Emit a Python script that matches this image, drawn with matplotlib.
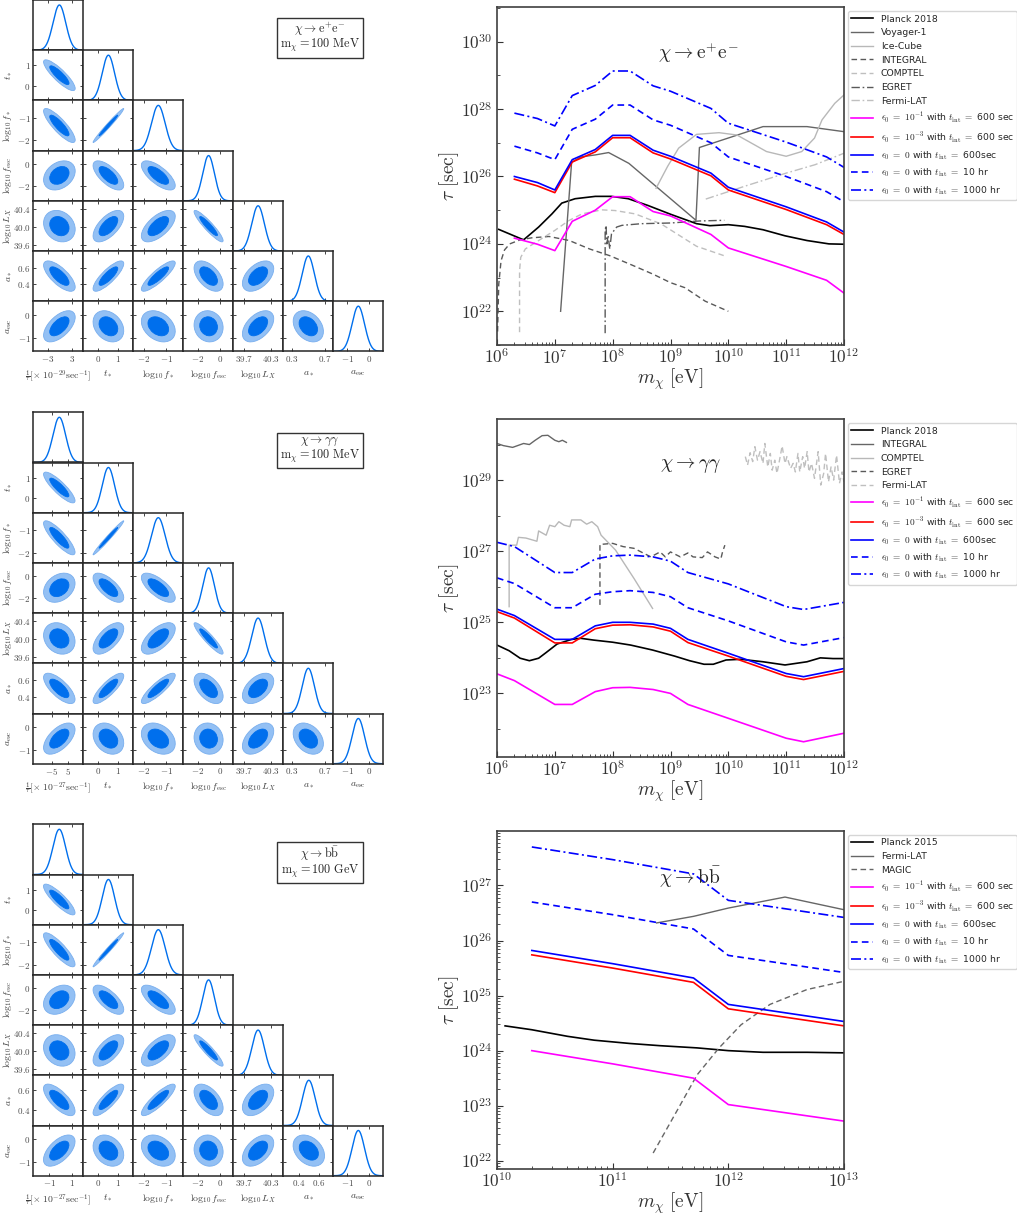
import numpy as np
import matplotlib
matplotlib.use('Agg')
import matplotlib.pyplot as plt
from matplotlib.patches import Ellipse
from matplotlib.ticker import FixedLocator, NullFormatter, FuncFormatter

plt.rcParams['mathtext.fontset'] = 'cm'
plt.rcParams['font.family'] = ['DejaVu Sans']

# ------------------------------------------------------------------ data
# corner-plot parameters (posterior means / widths / plotted ranges)
par_labels = [None, r'$t_*$', r'$\log_{10}f_*$', r'$\log_{10}f_{\rm esc}$',
              r'$\log_{10}L_X$', r'$a_*$', r'$a_{\rm esc}$']
par_means = [0.0, 0.52, -1.35, -1.05, 40.02, 0.50, -0.50]
par_sigmas = [1.0, 0.30, 0.30, 0.52, 0.14, 0.073, 0.28]
par_lims = [(-1, 1), (-0.70, 1.73), (-2.45, -0.25), (-3.30, 1.15),
            (39.47, 40.58), (0.20, 0.80), (-1.62, 0.62)]
par_xticks = [None, ['0', '1'], ['-2', '-1'], ['-2', '0'], ['39.7', '40.3'],
              ['0.3', '0.7'], ['-1', '0']]
par_yticks = [None, ['0', '1'], ['-2', '-1'], ['-2', '0'],
              ['39.6', '40.0', '40.4'], ['0.4', '0.6'], ['-1', '0']]
# lower-triangle correlation coefficients
par_corr = [
    [1.0],
    [-0.86, 1.0],
    [-0.85, 0.985, 1.0],
    [0.30, -0.68, -0.70, 1.0],
    [-0.20, 0.62, 0.62, -0.92, 1.0],
    [-0.72, 0.82, 0.86, -0.52, 0.48, 1.0],
    [0.58, -0.28, -0.32, -0.08, 0.48, -0.33, 1.0],
]

# per-panel decay-rate parameter and a_* settings
tau_labels = [r'$\frac{1}{\tau}[\times\ 10^{-29}\mathrm{sec}^{-1}]$',
              r'$\frac{1}{\tau}[\times\ 10^{-27}\mathrm{sec}^{-1}]$',
              r'$\frac{1}{\tau}[\times\ 10^{-27}\mathrm{sec}^{-1}]$']
tau_means = [-0.08, -0.4, -0.09]
tau_sigmas = [1.59, 3.8, 0.56]
tau_lims = [(-6.6, 5.9), (-16.0, 14.0), (-2.38, 2.03)]
tau_ticks = [['-3', '3'], ['-5', '5'], ['-1', '1']]
astar_sigmas = [0.073, 0.073, 0.062]
astar_lims = [(0.20, 0.80), (0.20, 0.80), (0.25, 0.74)]
astar_xticks = [['0.3', '0.7'], ['0.3', '0.7'], ['0.4', '0.6']]
channel_box = [r'$\chi\rightarrow\mathrm{e^{+}e^{-}}$' + '\n' + r'$\mathrm{m_{\chi}=100\ MeV}$',
               r'$\chi\rightarrow\gamma\gamma$' + '\n' + r'$\mathrm{m_{\chi}=100\ MeV}$',
               r'$\chi\rightarrow\mathrm{b\bar{b}}$' + '\n' + r'$\mathrm{m_{\chi}=100\ GeV}$']

# ---- chi -> e+e-  (masses in eV, lifetimes as log10(tau/sec))
m_ee = [2e6, 5e6, 1e7, 2e7, 5e7, 1e8, 2e8, 5e8, 1e9, 5e9, 1e10, 1e11, 5e11, 1e12]
ee_eps1 = [24.17, 23.99, 23.80, 24.67, 25.00, 25.40, 25.40, 24.96, 24.83, 24.28, 23.88, 23.33, 22.92, 22.54]
ee_eps3 = [25.92, 25.72, 25.52, 26.43, 26.73, 27.15, 27.15, 26.70, 26.52, 26.02, 25.60, 25.02, 24.57, 24.28]
ee_600s = [26.00, 25.82, 25.60, 26.50, 26.80, 27.22, 27.22, 26.78, 26.60, 26.10, 25.68, 25.10, 24.65, 24.35]
ee_10hr = [26.90, 26.70, 26.50, 27.40, 27.70, 28.12, 28.12, 27.68, 27.52, 27.00, 26.58, 26.00, 25.55, 25.25]
ee_1000hr = [27.88, 27.72, 27.50, 28.40, 28.70, 29.13, 29.13, 28.69, 28.53, 28.02, 27.58, 27.02, 26.58, 26.27]

ee_planck_m = [6.03, 6.46, 6.72, 6.95, 7.12, 7.35, 7.7, 7.98, 8.27, 8.61, 9.0, 9.45, 9.68, 10.0,
               10.28, 10.6, 10.98, 11.36, 11.74, 12.0]
ee_planck_t = [24.43, 24.12, 24.5, 24.89, 25.21, 25.34, 25.41, 25.41, 25.34, 25.14, 24.88, 24.6,
               24.54, 24.57, 24.52, 24.42, 24.24, 24.1, 24.0, 23.99]
ee_voyager_m = [7.1, 7.29, 7.45, 7.7, 7.93, 8.28, 9.44, 9.5, 10.6, 11.36, 12.0]
ee_voyager_t = [22.0, 26.42, 26.58, 26.64, 26.71, 26.39, 24.7, 26.86, 27.48, 27.48, 27.33]
ee_icecube_m = [8.75, 8.95, 9.14, 9.45, 9.84, 10.15, 10.66, 11.0, 11.27, 11.49, 11.62, 11.84, 12.0]
ee_icecube_t = [25.65, 26.3, 26.84, 27.25, 27.3, 27.23, 26.74, 26.6, 26.74, 27.14, 27.68, 28.17, 28.42]
ee_integral_m = [6.01, 6.03, 6.07, 6.13, 6.22, 6.4, 6.6, 6.9, 7.25, 7.6, 7.95, 8.35, 8.7, 9.0,
                 9.25, 9.6, 10.0]
ee_integral_t = [21.4, 22.8, 23.5, 23.82, 24.0, 24.12, 24.18, 24.22, 24.1, 23.85, 23.65, 23.36,
                 23.1, 22.85, 22.7, 22.3, 22.0]
ee_comptel_m = [6.39, 6.39, 6.41, 6.49, 6.72, 7.0, 7.24, 7.47, 7.81, 8.04, 8.39, 8.84, 9.45, 9.96]
ee_comptel_t = [21.38, 23.2, 23.6, 23.85, 24.1, 24.4, 24.69, 24.89, 25.01, 24.99, 24.89, 24.59,
                23.93, 23.63]
ee_egret_m = [7.87, 7.87, 7.885, 7.9, 7.92, 7.95, 7.98, 8.07, 8.16, 8.5, 9.0, 9.5, 9.93]
ee_egret_t = [21.35, 24.4, 24.55, 24.0, 24.25, 23.85, 24.3, 24.5, 24.55, 24.6, 24.62, 24.68, 24.7]
ee_fermi_m = [9.61, 10.3, 11.0, 11.5, 12.0]
ee_fermi_t = [25.33, 25.72, 26.1, 26.35, 26.69]

# ---- chi -> gamma gamma
m_gg = [1e6, 2e6, 1e7, 2e7, 5e7, 1e8, 2e8, 5e8, 1e9, 2e9, 1e10, 1e11, 2e11, 1e12]
gg_eps1 = [23.55, 23.36, 22.69, 22.69, 23.05, 23.16, 23.17, 23.11, 23.0, 22.69, 22.3, 21.74, 21.64, 21.88]
gg_eps3 = [25.3, 25.12, 24.42, 24.42, 24.82, 24.92, 24.93, 24.87, 24.75, 24.43, 24.05, 23.48, 23.39, 23.62]
gg_600s = [25.37, 25.19, 24.52, 24.52, 24.9, 25.0, 25.0, 24.95, 24.83, 24.52, 24.13, 23.56, 23.47, 23.7]
gg_10hr = [26.25, 26.09, 25.41, 25.41, 25.79, 25.86, 25.89, 25.84, 25.72, 25.41, 25.04, 24.45, 24.36, 24.57]
gg_1000hr = [27.25, 27.13, 26.4, 26.4, 26.78, 26.87, 26.89, 26.84, 26.72, 26.4, 26.08, 25.44, 25.36, 25.56]

gg_planck_m = [6.0, 6.21, 6.4, 6.56, 6.72, 6.85, 7.04, 7.29, 7.45, 7.67, 8.0, 8.31, 8.69, 9.07,
               9.33, 9.58, 9.74, 9.96, 10.22, 10.6, 10.98, 11.36, 11.59, 11.81, 12.0]
gg_planck_t = [24.36, 24.2, 23.99, 23.92, 23.99, 24.15, 24.39, 24.52, 24.55, 24.5, 24.44, 24.36,
               24.22, 24.05, 23.92, 23.82, 23.82, 23.94, 23.96, 23.89, 23.8, 23.89, 24.0, 23.98, 23.98]
gg_integral_m = [6.0, 6.11, 6.27, 6.46, 6.56, 6.66, 6.78, 6.88, 7.0, 7.07, 7.13, 7.2]
gg_integral_t = [30.03, 29.97, 29.92, 30.03, 30.0, 30.12, 30.25, 30.26, 30.12, 30.08, 30.12, 30.06]
gg_comptel_m = [6.21, 6.21, 6.34, 6.37, 6.5, 6.69, 6.72, 6.85, 6.91, 7.0, 7.07, 7.16, 7.26, 7.29,
                7.45, 7.55, 7.64, 7.74, 7.8, 8.05, 8.37, 8.69]
gg_comptel_t = [25.44, 27.17, 27.17, 27.39, 27.37, 27.28, 27.57, 27.45, 27.73, 27.69, 27.83, 27.73,
                27.69, 27.88, 27.88, 27.76, 27.83, 27.69, 27.45, 27.03, 26.23, 25.39]
gg_egret_m = [7.78, 7.78, 8.0, 8.18, 8.37, 8.66, 8.82, 8.91, 9.0, 9.17, 9.3, 9.39, 9.55, 9.64,
              9.77, 9.87, 9.9, 9.94]
gg_egret_t = [25.49, 27.19, 27.22, 27.13, 27.08, 26.84, 26.98, 26.84, 26.98, 26.84, 26.95, 26.84,
              26.82, 26.98, 26.84, 26.78, 26.98, 27.17]
gg_fermi_m = [10.294, 10.332, 10.377, 10.421, 10.459, 10.504, 10.548, 10.599, 10.631, 10.682,
              10.726, 10.758, 10.803, 10.841, 10.885, 10.930, 10.980, 11.013, 11.076, 11.121,
              11.159, 11.204, 11.235, 11.286, 11.318, 11.363, 11.394, 11.439, 11.490, 11.553,
              11.598, 11.649, 11.681, 11.732, 11.776, 11.821, 11.871, 11.922, 11.967, 11.999]
gg_fermi_t = [29.66, 29.42, 29.77, 29.52, 29.94, 29.56, 29.80, 29.47, 30.03, 29.37,
              29.75, 29.28, 29.56, 29.19, 29.56, 29.96, 29.47, 29.66, 29.33, 29.47,
              29.23, 29.75, 29.23, 29.66, 29.33, 29.80, 29.23, 29.47, 29.05, 29.80,
              28.86, 29.19, 29.75, 28.95, 29.37, 29.00, 29.70, 28.91, 29.23, 28.95]

# ---- chi -> b bbar
m_bb = [2e10, 1e11, 5e11, 1e12, 1e13]
bb_eps1 = [24.0, 23.76, 23.5, 23.02, 22.72]
bb_eps3 = [25.74, 25.5, 25.24, 24.76, 24.45]
bb_600s = [25.82, 25.58, 25.32, 24.84, 24.53]
bb_10hr = [26.7, 26.47, 26.21, 25.73, 25.42]
bb_1000hr = [27.7, 27.47, 27.21, 26.73, 26.42]
bb_planck_m = [10.07, 10.3, 10.61, 10.84, 11.15, 11.41, 11.73, 12.0, 12.3, 12.68, 13.0]
bb_planck_t = [24.45, 24.38, 24.26, 24.19, 24.13, 24.09, 24.05, 24.0, 23.97, 23.97, 23.96]
bb_fermi_m = [11.38, 11.7, 12.0, 12.49, 13.0]
bb_fermi_t = [26.32, 26.44, 26.59, 26.79, 26.56]
bb_magic_m = [11.35, 11.57, 11.73, 11.92, 12.11, 12.36, 12.68, 13.0]
bb_magic_t = [22.14, 22.96, 23.56, 24.05, 24.47, 24.84, 25.11, 25.26]

eps_labels = [r'$\epsilon_0\ =\ 10^{-1}$ with $t_{\rm int}\ =$ 600 sec',
              r'$\epsilon_0\ =\ 10^{-3}$ with $t_{\rm int}\ =$ 600 sec',
              r'$\epsilon_0\ =\ 0$ with $t_{\rm int}\ =$ 600sec',
              r'$\epsilon_0\ =\ 0$ with $t_{\rm int}\ =$ 10 hr',
              r'$\epsilon_0\ =\ 0$ with $t_{\rm int}\ =$ 1000 hr']

# ------------------------------------------------------------------ layout
W, H = 1017, 1217
fig = plt.figure(figsize=(W / 100, H / 100), dpi=100)

X0, CW, CH = 33.3, 50.0, 50.2
C_LINE = '#006FED'
C_OUT = '#93C0F4'
C_OUT_EDGE = '#78AEEE'


def tick_strings(ax, axis, labels):
    vals = [float(s) for s in labels]
    txt = [r'$%s$' % s for s in labels]
    if axis == 'x':
        ax.set_xticks(vals)
        ax.set_xticklabels(txt)
    else:
        ax.set_yticks(vals)
        ax.set_yticklabels(txt)


def corner(k, top_px):
    means = [tau_means[k]] + par_means[1:]
    sigmas = [tau_sigmas[k]] + par_sigmas[1:5] + [astar_sigmas[k]] + par_sigmas[6:]
    lims = [tau_lims[k]] + par_lims[1:5] + [astar_lims[k]] + par_lims[6:]
    xt = [tau_ticks[k]] + par_xticks[1:5] + [astar_xticks[k]] + par_xticks[6:]
    yt = par_yticks
    labels = [tau_labels[k]] + par_labels[1:]
    n = 7
    for i in range(n):
        for j in range(i + 1):
            ax = fig.add_axes([(X0 + j * CW) / W, 1 - (top_px + (i + 1) * CH) / H,
                               CW / W, CH / H])
            if i == j:
                xs = np.linspace(lims[j][0], lims[j][1], 400)
                ax.plot(xs, np.exp(-0.5 * ((xs - means[j]) / sigmas[j]) ** 2),
                        color=C_LINE, lw=1.0)
                ax.set_ylim(0, 1.11)
                ax.set_yticks([])
            else:
                r = par_corr[i][j]
                cov = np.array([[sigmas[j] ** 2, r * sigmas[i] * sigmas[j]],
                                [r * sigmas[i] * sigmas[j], sigmas[i] ** 2]])
                vals, vecs = np.linalg.eigh(cov)
                ang = np.degrees(np.arctan2(vecs[1, 1], vecs[0, 1]))
                for chi2, fc, ec in [(6.18, C_OUT, C_OUT_EDGE), (2.30, C_LINE, C_LINE)]:
                    ax.add_patch(Ellipse((means[j], means[i]),
                                         2 * np.sqrt(chi2 * vals[1]),
                                         2 * np.sqrt(chi2 * vals[0]),
                                         angle=ang, fc=fc, ec=ec, lw=0.6))
                ax.set_ylim(lims[i])
                tick_strings(ax, 'y', yt[i])
            ax.set_xlim(lims[j])
            tick_strings(ax, 'x', xt[j])
            ax.tick_params(direction='in', top=True, right=True, length=2.5, width=0.6,
                           labelsize=6.5, pad=2, colors='0.15', labelcolor='0.3')
            for s in ax.spines.values():
                s.set_color('0.15')
                s.set_linewidth(1.1)
            if j != 0 or i == 0:
                ax.set_yticklabels([])
            else:
                ax.set_ylabel(labels[i], fontsize=7, color='0.25')
                ax.yaxis.set_label_coords(-0.38, 0.5)
            if i != n - 1:
                ax.set_xticklabels([])
            else:
                ax.set_xlabel(labels[j], fontsize=7, color='0.25')
                ax.xaxis.set_label_coords(0.5, -0.33)
    fig.text(320 / W, 1 - (top_px + 37.5) / H, channel_box[k], ha='center', va='center',
             fontsize=8.8, color='0.15', linespacing=0.95,
             bbox=dict(boxstyle='square,pad=0.28', fc='white', ec='0.2', lw=1.0))


corner(0, 0.0)
corner(1, 412.3)
corner(2, 824.3)

# ------------------------------------------------------------------ lifetime panels
AX_L, AX_R = 497.0, 844.0


def panel(top_px, bot_px):
    return fig.add_axes([AX_L / W, 1 - bot_px / H, (AX_R - AX_L) / W, (bot_px - top_px) / H])


def finish(ax, xlim_exp, ylim_exp, ymajor, yminor):
    ax.set_xscale('log')
    ax.set_yscale('log')
    ax.set_xlim(10.0 ** xlim_exp[0], 10.0 ** xlim_exp[1])
    ax.set_ylim(10.0 ** ylim_exp[0], 10.0 ** ylim_exp[1])
    fmt = FuncFormatter(lambda v, p: r'$10^{%d}$' % int(round(np.log10(v))))
    ax.xaxis.set_major_locator(FixedLocator([10.0 ** e for e in range(xlim_exp[0], xlim_exp[1] + 1)]))
    ax.xaxis.set_major_formatter(fmt)
    ax.xaxis.set_minor_locator(FixedLocator([s * 10.0 ** e for e in range(xlim_exp[0], xlim_exp[1])
                                             for s in range(2, 10)]))
    ax.xaxis.set_minor_formatter(NullFormatter())
    ax.yaxis.set_major_locator(FixedLocator([10.0 ** e for e in ymajor]))
    ax.yaxis.set_major_formatter(fmt)
    ax.yaxis.set_minor_locator(FixedLocator(yminor))
    ax.yaxis.set_minor_formatter(NullFormatter())
    ax.tick_params(which='both', direction='in', labelsize=12.3, colors='0.2')
    ax.tick_params(which='major', length=4, width=0.8)
    ax.tick_params(which='minor', length=2, width=0.6)
    ax.tick_params(axis='x', which='major', pad=2.5)
    for s in ax.spines.values():
        s.set_color('0.25')
        s.set_linewidth(1.2)
    ax.set_xlabel(r'$m_\chi\ [\mathrm{eV}]$', fontsize=14, color='0.2', labelpad=-1)
    ax.set_ylabel(r'$\tau\ [\mathrm{sec}]$', fontsize=14, color='0.2', labelpad=0)
    leg = ax.legend(loc='upper left', bbox_to_anchor=(1.0, 1.0), fontsize=6.7,
                    handlelength=2.35, handletextpad=0.8, labelspacing=0.5,
                    borderaxespad=0.45, borderpad=0.35)
    for t in leg.get_texts():
        t.set_color('0.15')


def P(v):
    return [10.0 ** x for x in v]


DASH = (0, (4, 2.5))
DASHDOT = (0, (6, 2, 1.2, 2))


def eps_curves(ax, m, c1, c3, c600, c10, c1000):
    ax.plot(m, P(c1), color='magenta', lw=1.2, label=eps_labels[0])
    ax.plot(m, P(c3), color='red', lw=1.2, label=eps_labels[1])
    ax.plot(m, P(c600), color='blue', lw=1.2, label=eps_labels[2])
    ax.plot(m, P(c10), color='blue', lw=1.2, ls=DASH, label=eps_labels[3])
    ax.plot(m, P(c1000), color='blue', lw=1.2, ls=DASHDOT, label=eps_labels[4])


# top panel: e+ e-
ax1 = panel(7.3, 345.0)
ax1.plot(P(ee_planck_m), P(ee_planck_t), color='black', lw=1.2, label='Planck 2018')
ax1.plot(P(ee_voyager_m), P(ee_voyager_t), color='0.4', lw=1.0, label='Voyager-1')
ax1.plot(P(ee_icecube_m), P(ee_icecube_t), color='0.72', lw=1.0, label='Ice-Cube')
ax1.plot(P(ee_integral_m), P(ee_integral_t), color='0.35', lw=1.0, ls=DASH, label='INTEGRAL')
ax1.plot(P(ee_comptel_m), P(ee_comptel_t), color='0.75', lw=1.0, ls=DASH, label='COMPTEL')
ax1.plot(P(ee_egret_m), P(ee_egret_t), color='0.35', lw=1.0, ls=DASHDOT, label='EGRET')
ax1.plot(P(ee_fermi_m), P(ee_fermi_t), color='0.75', lw=1.0, ls=DASHDOT, label='Fermi-LAT')
eps_curves(ax1, m_ee, ee_eps1, ee_eps3, ee_600s, ee_10hr, ee_1000hr)
ax1.text(0.579, 0.865, r'$\chi\rightarrow\mathrm{e^{+}e^{-}}$', transform=ax1.transAxes,
         ha='center', va='center', fontsize=14, color='0.15')
finish(ax1, (6, 12), (21.0, 31.02), [22, 24, 26, 28, 30],
       [10.0 ** e for e in [21, 23, 25, 27, 29, 31]])

# middle panel: gamma gamma
ax2 = panel(419.3, 756.7)
ax2.plot(P(gg_planck_m), P(gg_planck_t), color='black', lw=1.2, label='Planck 2018')
ax2.plot(P(gg_integral_m), P(gg_integral_t), color='0.4', lw=1.0, label='INTEGRAL')
ax2.plot(P(gg_comptel_m), P(gg_comptel_t), color='0.72', lw=1.0, label='COMPTEL')
ax2.plot(P(gg_egret_m), P(gg_egret_t), color='0.35', lw=1.0, ls=DASH, label='EGRET')
ax2.plot(P(gg_fermi_m), P(gg_fermi_t), color='0.75', lw=1.0, ls=DASH, label='Fermi-LAT')
eps_curves(ax2, m_gg, gg_eps1, gg_eps3, gg_600s, gg_10hr, gg_1000hr)
ax2.text(0.559, 0.862, r'$\chi\rightarrow\gamma\gamma$', transform=ax2.transAxes,
         ha='center', va='center', fontsize=14, color='0.15')
finish(ax2, (6, 12), (21.22, 30.71), [23, 25, 27, 29],
       [10.0 ** e for e in [22, 24, 26, 28, 30]])

# bottom panel: b bbar
ax3 = panel(831.0, 1169.0)
ax3.plot(P(bb_planck_m), P(bb_planck_t), color='black', lw=1.2, label='Planck 2015')
ax3.plot(P(bb_fermi_m), P(bb_fermi_t), color='0.4', lw=1.0, label='Fermi-LAT')
ax3.plot(P(bb_magic_m), P(bb_magic_t), color='0.4', lw=1.0, ls=DASH, label='MAGIC')
eps_curves(ax3, m_bb, bb_eps1, bb_eps3, bb_600s, bb_10hr, bb_1000hr)
ax3.text(0.556, 0.864, r'$\chi\rightarrow\mathrm{b\bar{b}}$', transform=ax3.transAxes,
         ha='center', va='center', fontsize=14, color='0.15')
finish(ax3, (10, 13), (21.85, 27.99), [22, 23, 24, 25, 26, 27],
       [s * 10.0 ** e for e in range(21, 28) for s in range(2, 10)])

fig.savefig('out.png', dpi=100)
